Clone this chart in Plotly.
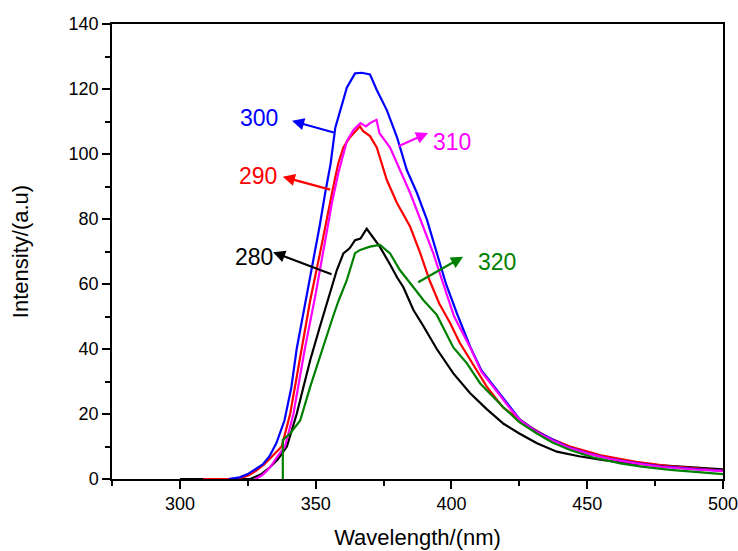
import plotly.graph_objects as go

# ---- data ----
wl_280 = [300, 326, 330, 333, 336, 339.4, 343, 345.5, 348, 351.6, 355.3, 357.8, 360.2, 362.5, 364.5, 366.5,
          368.8, 370, 373.6, 377.4, 380, 382.3, 386, 389.7, 394.6, 400.7, 406.9, 413, 419.2, 425, 431.5,
          438.8, 447, 456, 466, 476, 486.8, 500]
int_280 = [0, 0, 1.5, 3.5, 6, 10, 20, 28, 36.6, 47, 57, 64.3, 69.4, 71, 73.5, 74,
           77, 75.7, 71.5, 66, 62, 59, 52, 47, 40, 32.5, 26.4, 21.5, 17, 14, 11,
           8.4, 7, 5.8, 4.8, 4.3, 3.8, 3]

wl_290 = [308.5, 318, 322, 325, 328, 331, 334, 337.5, 340.6, 344.9, 348, 351.6, 354, 356.5, 358.3, 360.2,
          362.5, 364.5, 366.3, 367.5, 370, 372.5, 376.2, 379.9, 384.8, 388.5, 392, 395.5, 399.5, 403,
          406.9, 413, 419, 429, 436, 443.7, 455, 468, 480, 490, 500]
int_290 = [0, 0, 0.3, 1, 2.5, 4.5, 7, 10, 20, 40, 55, 69.5, 80, 90, 97, 102,
           105, 107, 108.5, 107, 105.5, 102, 92, 85, 77.6, 69.5, 61, 54, 48, 42,
           36.6, 28.4, 22, 16, 12.6, 10, 7.3, 5.3, 4, 3.2, 2.6]

wl_300 = [318, 322, 325, 328, 330.5, 333, 335.5, 338.5, 341, 343, 346, 349, 351.5, 353.5, 355.5, 357.2,
          359, 361.5, 364.5, 367, 370, 372.5, 376.2, 379.9, 383.6, 387.3, 391, 394.6, 398, 402, 406.9,
          411, 416.7, 421, 425.3, 431, 437.5, 443, 450, 458, 468, 478, 489, 500]
int_300 = [0, 0.5, 1.5, 3, 4.5, 7, 11, 18, 28, 40, 53, 67, 78, 88, 97, 108,
           113.5, 120.5, 124.8, 125, 124.5, 119.7, 113.5, 105.3, 95, 88, 79.7, 69.4, 60, 51, 40.7,
           33.5, 27.4, 22.5, 18.2, 14.8, 12, 9.8, 8, 6.3, 4.9, 3.8, 3.1, 2.5]

wl_310 = [327.7, 330, 332, 334, 336, 338.7, 341.8, 346, 350, 353.5, 356, 358.3, 361.5, 364, 366.5, 368.5,
          370, 372.4, 373.5, 377.4, 381, 384.8, 388.5, 393.3, 397, 401, 406.9, 411, 416.7, 421, 425.3,
          431, 437.5, 443, 450, 458, 468, 478, 489, 500]
int_310 = [0, 1, 2.5, 4.5, 7, 10, 20, 40, 57, 73.5, 85, 94, 104, 107.5, 109.5, 108.5,
           109.5, 110.5, 106.4, 102, 95, 88, 80, 69.5, 60, 50, 40.5, 33, 27, 22.3, 18,
           14.6, 11.8, 9.7, 7.9, 6.2, 4.8, 3.7, 3, 2.4]

wl_320 = [337.9, 337.9, 340.6, 344.3, 348, 350.5, 353.5, 356.4, 358.5, 361.4, 364.5, 366.4, 370, 373.7,
          377.4, 381, 386, 389.7, 394.6, 400.7, 405.7, 410.6, 419.2, 425, 431.5, 437, 443.7, 452, 462.2,
          470, 480.6, 490, 500]
int_320 = [0, 12, 14, 18, 28.4, 35, 42.8, 50, 55, 61, 69.5, 70.5, 71.5, 72,
           69.4, 64.3, 59, 55, 50.5, 40.5, 35.6, 29.4, 22, 17.5, 14, 11.3, 8.9, 6.7, 4.8,
           3.8, 2.8, 2.2, 1.5]

series_names = ["280", "290", "300", "310", "320"]
series_colors = ["#000000", "#FF0000", "#0000FF", "#FF00FF", "#008000"]

x_tickvals = [300, 350, 400, 450, 500]
y_tickvals = [0, 20, 40, 60, 80, 100, 120, 140]

# label positions (data coords): text position, arrow tail (on curve), arrow head (toward text)
label_text_pos = {"280": (327.3, 68.3), "290": (328.8, 93.2), "300": (329.2, 111.0),
                  "310": (400.3, 103.7), "320": (416.9, 66.8)}
arrow_tail = {"280": (356.4, 62.8), "290": (355.9, 88.9), "300": (357.2, 106.5),
              "310": (379.9, 102.2), "320": (387.2, 60.3)}
arrow_head = {"280": (334.3, 69.8), "290": (337.9, 93.0), "300": (341.3, 110.2),
              "310": (391.4, 106.5), "320": (404.3, 68.4)}

xs = [wl_280, wl_290, wl_300, wl_310, wl_320]
ys = [int_280, int_290, int_300, int_310, int_320]

fig = go.Figure()
for name, color, x, y in zip(series_names, series_colors, xs, ys):
    fig.add_trace(go.Scatter(x=x, y=y, mode="lines", name=name,
                             line=dict(color=color, width=2.2)))

annotations = []
for name, color in zip(series_names, series_colors):
    hx, hy = arrow_head[name]
    tx, ty = arrow_tail[name]
    annotations.append(dict(x=hx, y=hy, ax=tx, ay=ty, xref="x", yref="y", axref="x", ayref="y",
                            text="", showarrow=True, arrowhead=2, arrowsize=1.1, arrowwidth=2.2,
                            arrowcolor=color))
    px, py = label_text_pos[name]
    annotations.append(dict(x=px, y=py, xref="x", yref="y", text=name, showarrow=False,
                            font=dict(family="Liberation Sans, Arial", size=23, color=color)))

fig.update_layout(
    width=738, height=551,
    margin=dict(l=112, r=15, t=24, b=72),
    paper_bgcolor="white", plot_bgcolor="white",
    showlegend=False,
    font=dict(family="Liberation Sans, Arial", color="black"),
    annotations=annotations,
)
fig.update_xaxes(
    range=[274.99, 500.01], tickvals=x_tickvals, ticks="outside", ticklen=8, tickwidth=1.5,
    tickcolor="black", showline=True, linecolor="black", linewidth=1.5, mirror=True,
    showgrid=False, zeroline=False, automargin=False,
    minor=dict(ticks="outside", ticklen=5, tickwidth=1.5, tickcolor="black", dtick=25, tick0=275, showgrid=False),
    tickfont=dict(size=18, color="black"),
    title=dict(text="Wavelength/(nm)", font=dict(size=22, color="black"), standoff=16),
)
fig.update_yaxes(
    range=[0, 140], tickvals=y_tickvals, ticks="outside", ticklen=8, tickwidth=1.5,
    tickcolor="black", showline=True, linecolor="black", linewidth=1.5, mirror=True,
    showgrid=False, zeroline=False, automargin=False,
    minor=dict(ticks="outside", ticklen=5, tickwidth=1.5, tickcolor="black", dtick=10, tick0=0, showgrid=False),
    tickfont=dict(size=18, color="black"),
    title=dict(text="Intensity/(a.u)", font=dict(size=22, color="black"), standoff=34),
)

fig.write_html("out.html", config={"displayModeBar": False},
               post_script="document.body.style.margin='0';document.body.style.overflow='hidden';")
